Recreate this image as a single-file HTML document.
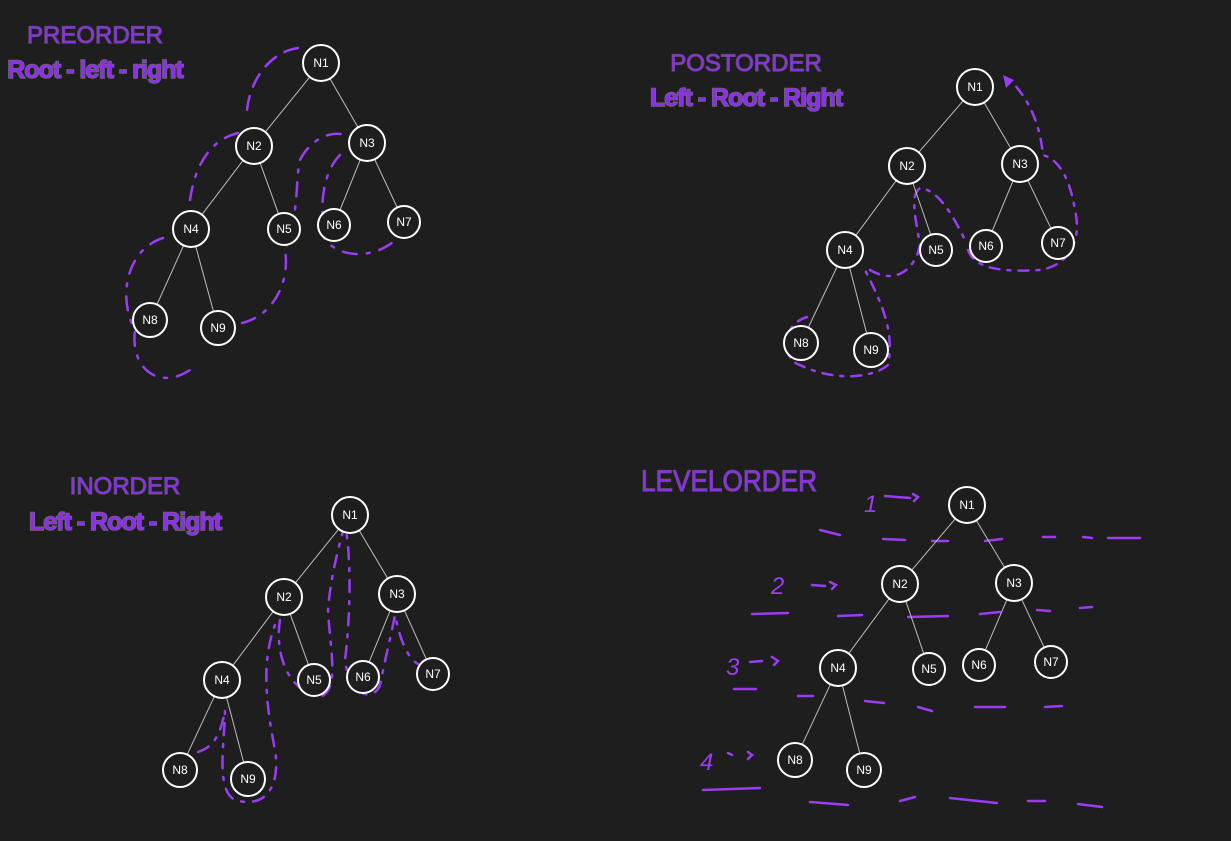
<!DOCTYPE html>
<html><head><meta charset="utf-8"><style>
html,body{margin:0;padding:0;background:#1e1e1e;width:1231px;height:841px;overflow:hidden}
svg{display:block}
.t{font-family:"Liberation Sans",sans-serif;font-weight:bold;fill:#8e2df0;stroke:#6b6b6b;stroke-width:1.5;paint-order:stroke;letter-spacing:-1px}
.th{font-family:"Liberation Sans",sans-serif;fill:#8e2df0;stroke:#555;stroke-width:1.2;paint-order:stroke}
.nd text{font-family:"Liberation Sans",sans-serif;fill:#fff;font-size:12px;text-anchor:middle}
.p{fill:none;stroke:#9b3cf5;stroke-width:2.5;stroke-linecap:round}
.ln{font-family:"Liberation Sans",sans-serif;fill:#9b3cf5;font-size:24px;font-style:italic}
</style></head><body>
<svg id="s" width="1231" height="841" viewBox="0 0 1231 841">
<text class="th" x="95" y="43" font-size="24" text-anchor="middle">PREORDER</text>
<text class="t" x="95" y="78" font-size="25" text-anchor="middle">Root - left - right</text>
<text class="th" x="746" y="71" font-size="24" text-anchor="middle">POSTORDER</text>
<text class="t" x="746" y="106" font-size="25" text-anchor="middle">Left - Root - Right</text>
<text class="th" x="125" y="494" font-size="24" text-anchor="middle">INORDER</text>
<text class="t" x="125" y="530" font-size="25" text-anchor="middle">Left - Root - Right</text>
<text class="th" x="729" y="491" font-size="30" text-anchor="middle" textLength="176" lengthAdjust="spacingAndGlyphs">LEVELORDER</text>

<g>
<path class="p" stroke-dasharray="14 10" d="M298 48 C270 52 250 80 247 110"/>
<path class="p" stroke-dasharray="14 10 3 10" d="M238 133 C210 140 195 165 190 200"/>
<path class="p" stroke-dasharray="14 10 3 10" d="M163 238 C125 250 118 300 135 330 C130 370 160 390 190 370"/>
<path class="p" stroke-dasharray="14 10 3 10" d="M242 323 C275 315 290 280 285 250 C300 210 295 180 300 160 C310 140 330 130 345 135"/>
<path class="p" stroke-dasharray="14 10 3 10" d="M340 155 C320 175 320 215 325 240 C345 262 380 255 395 240"/>
</g>
<g>
<path class="p" stroke-dasharray="10 8 3 8" d="M807 317 C780 325 782 360 800 365 C830 380 870 380 888 365 C895 330 880 300 865 270"/>
<path class="p" stroke-dasharray="10 8 3 8" d="M870 270 C895 285 915 270 920 245 C915 215 910 195 920 188 C940 190 955 220 965 240"/>
<path class="p" stroke-dasharray="10 8 3 8" d="M968 250 C975 270 1005 272 1040 270 C1070 265 1082 240 1075 210 C1070 180 1060 160 1043 155 C1040 125 1030 100 1010 80"/>
<path d="M1003 75 L1014 80 L1006 88 Z" fill="#9b3cf5"/>
</g>
<g>
<path class="p" stroke-dasharray="12 9 3 9" d="M198 752 C210 748 220 740 225 710 C225 740 215 790 235 800 C270 810 280 780 275 750 C265 700 262 660 275 625"/>
<path class="p" stroke-dasharray="12 9 3 9" d="M280 620 C275 650 285 690 320 697 C340 690 330 650 328 610 C330 580 340 540 345 525 C352 560 350 620 345 660 C350 700 375 700 380 685 C385 660 390 640 395 615 C400 640 408 660 420 665"/>
</g>
<g>
<text class="ln" x="864" y="512">1</text>
<text class="ln" x="771" y="594">2</text>
<text class="ln" x="726" y="675">3</text>
<text class="ln" x="700" y="770" font-size="30">4</text>
<path class="p" d="M885 496 L910 498 M913 494 L918 497 L914 501"/>
<path class="p" d="M812 585 L825 586 M830 582 L836 585 L832 589"/>
<path class="p" d="M750 662 L762 661 M772 657 L778 661 L774 665"/>
<path class="p" d="M728 753 L732 755 M748 752 L752 755 L748 759"/>
<path class="p" d="M820 530 L840 535 M883 539 L905 540 M932 541 L948 541 M985 541 L1002 539 M1043 537 L1055 537 M1083 537 L1092 538 M1108 538 L1140 538"/>
<path class="p" d="M752 614 L788 613 M838 616 L862 615 M908 617 L948 616 M980 614 L1000 612 M1037 610 L1050 611 M1080 608 L1092 607"/>
<path class="p" d="M734 689 L756 689 M798 696 L813 696 M865 701 L884 703 M918 707 L932 711 M975 707 L1005 707 M1045 707 L1062 706"/>
<path class="p" d="M703 790 L760 788 M810 802 L848 805 M900 801 L915 797 M950 798 L997 803 M1028 801 L1045 801 M1078 804 L1102 807"/>
</g>
<g id="trees"></g>
</svg>
<script>
const labels=["N1","N2","N3","N4","N5","N6","N7","N8","N9"];
const edges=[[0,1],[0,2],[1,3],[1,4],[2,5],[2,6],[3,7],[3,8]];
const radii=[18,18,18,18,16,16,16,17,17];
const treeNames=["preorder-tree","postorder-tree","inorder-tree","levelorder-tree"];
const treeX=[[321,254,367,191,284,334,404,150,218],[975,907,1020,845,936,986,1058,801,871],[350,284,397,222,314,363,433,180,248],[967,900,1014,838,929,979,1051,795,864]];
const treeY=[[63,146,143,229,229,225,222,320,328],[87,166,164,250,250,246,243,343,350],[515,597,594,680,680,677,674,770,779],[505,584,583,668,669,665,662,760,770]];
const NS="http://www.w3.org/2000/svg";
const root=document.getElementById('trees');
treeNames.forEach((tn,ti)=>{
  const g=document.createElementNS(NS,'g');
  
  
  edges.forEach(([a,b])=>{
    const x1=treeX[ti][a],y1=treeY[ti][a],x2=treeX[ti][b],y2=treeY[ti][b];
    const d=Math.hypot(x2-x1,y2-y1),ux=(x2-x1)/d,uy=(y2-y1)/d;
    const l=document.createElementNS(NS,'line');
    
    
    l.setAttribute('x1',x1+ux*radii[a]);l.setAttribute('y1',y1+uy*radii[a]);
    l.setAttribute('x2',x2-ux*radii[b]);l.setAttribute('y2',y2-uy*radii[b]);
    l.setAttribute('stroke','#bdbdbd');l.setAttribute('stroke-width','1');
    g.appendChild(l);
  });
  labels.forEach((lb,i)=>{
    const n=document.createElementNS(NS,'g');
    n.setAttribute('class','nd');
    
    
    const c=document.createElementNS(NS,'circle');
    c.setAttribute('cx',treeX[ti][i]);c.setAttribute('cy',treeY[ti][i]);c.setAttribute('r',radii[i]);
    c.setAttribute('fill','#1e1e1e');c.setAttribute('stroke','#fff');c.setAttribute('stroke-width','2');
    n.appendChild(c);
    const t=document.createElementNS(NS,'text');
    t.setAttribute('x',treeX[ti][i]);t.setAttribute('y',treeY[ti][i]+4);
    t.textContent=lb;
    n.appendChild(t);
    g.appendChild(n);
  });
  root.appendChild(g);
});
</script>
</body></html>
